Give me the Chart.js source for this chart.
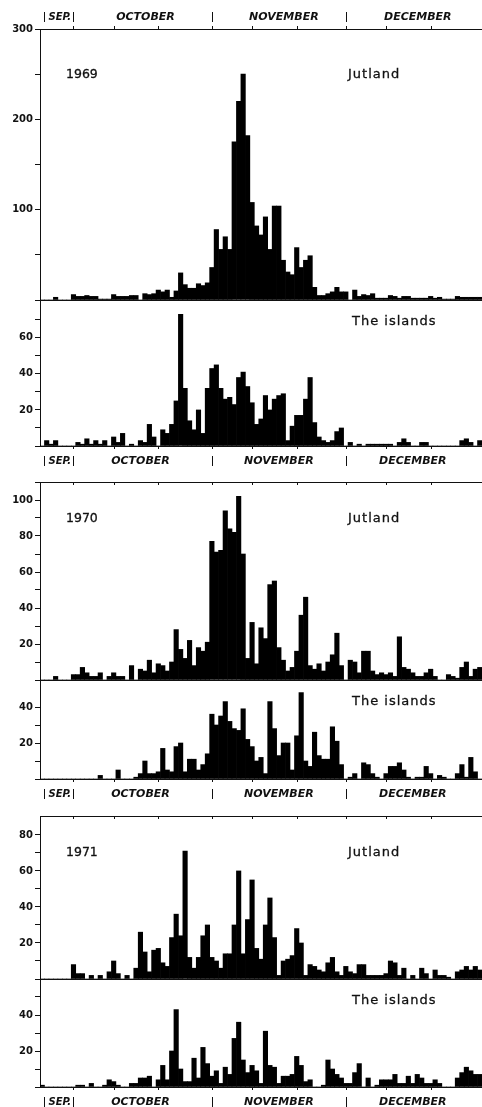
<!DOCTYPE html>
<html>
<head>
<meta charset="utf-8">
<script src="https://cdn.jsdelivr.net/npm/chart.js@4.4.1/dist/chart.umd.min.js"></script>
<style>
  body { margin: 0; background: #fff; }
  #page { position: relative; width: 482px; height: 1107px; overflow: hidden; background: #fff; }
  .panel { position: absolute; left: 0; }
  .tag { position: absolute; font: 13px "DejaVu Sans", sans-serif; color: #111; white-space: nowrap; line-height: 16px; -webkit-text-stroke: 0.3px #111; }
  .tag.year { font-size: 12.5px; }
  .tag.place { letter-spacing: 1px; }
</style>
</head>
<body>
<div id="page"></div>
<script>
// days run from 24 Sep to 31 Dec, one bar per day
const monthShort = ['Sep', 'Oct', 'Nov', 'Dec'];
const monthLengths = [30, 31, 30, 31];
const monthLabels = ['SEP.', 'OCTOBER', 'NOVEMBER', 'DECEMBER'];
const firstDay = 24;
const tickDays = [1, 10, 20];

const jutland1969 = [
  0, 0, 0, 3, 0, 0, 0, 6, 4, 4,
  5, 4, 4, 1, 1, 1, 6, 4, 4, 4,
  5, 5, 0, 7, 6, 7, 11, 9, 11, 3,
  10, 30, 17, 13, 13, 18, 16, 19, 36, 78,
  56, 70, 56, 175, 220, 250, 182, 108, 82, 72,
  92, 56, 104, 104, 44, 31, 28, 58, 36, 44,
  49, 14, 5, 5, 7, 9, 14, 9, 9, 0,
  11, 4, 6, 5, 7, 2, 2, 2, 5, 4,
  2, 4, 4, 2, 2, 2, 2, 4, 2, 3,
  1, 1, 1, 4, 3, 3, 3, 3, 3,
];
const islands1969 = [
  0, 3, 1, 3, 0, 0, 0, 0, 2, 1,
  4, 1, 3, 1, 3, 0, 5, 2, 7, 0,
  1, 0, 3, 2, 12, 5, 0, 9, 7, 12,
  25, 73, 32, 14, 9, 20, 7, 32, 43, 45,
  32, 26, 27, 23, 38, 41, 33, 24, 12, 15,
  28, 20, 26, 28, 29, 3, 11, 17, 17, 26,
  38, 13, 5, 3, 2, 3, 8, 10, 0, 2,
  0, 1, 0, 1, 1, 1, 1, 1, 1, 0,
  2, 4, 2, 0, 0, 2, 2, 0, 0, 0,
  0, 0, 0, 0, 3, 4, 2, 0, 3,
];
const jutland1970 = [
  0, 0, 0, 2, 0, 0, 0, 3, 3, 7,
  4, 2, 2, 4, 0, 2, 4, 2, 2, 0,
  8, 0, 6, 5, 11, 4, 9, 8, 5, 10,
  28, 17, 12, 22, 8, 18, 16, 21, 77, 71,
  72, 94, 84, 82, 102, 70, 12, 32, 9, 29,
  23, 53, 55, 18, 11, 5, 7, 16, 36, 46,
  8, 6, 9, 5, 10, 14, 26, 8, 0, 11,
  10, 4, 16, 16, 5, 3, 4, 3, 4, 2,
  24, 7, 6, 4, 2, 2, 4, 6, 2, 0,
  0, 3, 2, 1, 7, 10, 2, 6, 7,
];
const islands1970 = [
  0, 0, 0, 0, 0, 0, 0, 0, 0, 0,
  0, 0, 0, 2, 0, 0, 0, 5, 0, 0,
  0, 1, 3, 10, 3, 3, 4, 17, 5, 4,
  18, 20, 4, 11, 11, 5, 8, 14, 36, 30,
  35, 43, 32, 28, 27, 39, 22, 18, 10, 12,
  3, 43, 28, 13, 20, 20, 5, 24, 48, 10,
  7, 26, 13, 11, 11, 29, 21, 8, 0, 1,
  3, 0, 9, 8, 3, 1, 0, 3, 7, 7,
  9, 5, 1, 0, 1, 1, 7, 3, 0, 2,
  1, 0, 0, 3, 8, 1, 12, 4, 0,
];
const jutland1971 = [
  0, 0, 0, 0, 0, 0, 0, 8, 3, 3,
  0, 2, 0, 2, 0, 4, 10, 3, 0, 2,
  0, 6, 26, 15, 4, 16, 17, 9, 7, 23,
  36, 24, 71, 12, 6, 12, 24, 30, 12, 10,
  6, 14, 14, 30, 60, 14, 33, 55, 17, 11,
  30, 45, 23, 2, 10, 11, 13, 28, 20, 2,
  8, 7, 5, 4, 9, 12, 4, 2, 7, 4,
  3, 8, 8, 2, 2, 2, 2, 3, 10, 9,
  2, 6, 0, 2, 0, 6, 3, 0, 5, 2,
  2, 1, 0, 4, 5, 7, 5, 7, 5,
];
const islands1971 = [
  1, 0, 0, 0, 0, 0, 0, 0, 1, 1,
  0, 2, 0, 0, 1, 4, 3, 1, 0, 0,
  2, 2, 5, 5, 6, 0, 4, 12, 4, 20,
  43, 10, 3, 3, 16, 5, 22, 13, 6, 9,
  2, 11, 7, 27, 36, 15, 8, 12, 9, 2,
  31, 12, 11, 2, 6, 6, 7, 17, 12, 3,
  4, 0, 0, 1, 15, 10, 7, 5, 2, 2,
  8, 13, 0, 5, 0, 1, 4, 4, 4, 7,
  2, 2, 6, 2, 7, 5, 2, 2, 4, 2,
  0, 0, 0, 5, 8, 11, 9, 7, 7,
];

// day labels and where each month starts
const days = [];
const dayOfMonth = [];
monthLengths.forEach((len, m) => {
  for (let d = m === 0 ? firstDay : 1; d <= len; d++) {
    days.push(monthShort[m] + ' ' + d);
    dayOfMonth.push(d);
  }
});

const ink = '#111';

// panel layout on the page: chart area top/bottom in px
const panels = [
  { data: jutland1969, top: 29, bottom: 300, max: 300, step: 50, every: 100, lastLabel: 300, box: [0, 310], frame: true, months: 'top', year: '1969', place: 'Jutland' },
  { data: islands1969, top: 300, bottom: 446, max: 81, step: 10, every: 20, lastLabel: 60, box: [290, 470], frame: false, months: 'bottom', place: 'The islands' },
  { data: jutland1970, top: 482, bottom: 680, max: 110, step: 10, every: 20, lastLabel: 100, box: [472, 690], frame: true, months: null, year: '1970', place: 'Jutland' },
  { data: islands1970, top: 680, bottom: 779, max: 55, step: 10, every: 20, lastLabel: 40, box: [670, 804], frame: false, months: 'bottom', place: 'The islands' },
  { data: jutland1971, top: 816, bottom: 979, max: 90.5, step: 10, every: 20, lastLabel: 80, box: [806, 989], frame: true, months: null, year: '1971', place: 'Jutland' },
  { data: islands1971, top: 979, bottom: 1087, max: 60, step: 10, every: 20, lastLabel: 40, box: [969, 1107], frame: false, months: 'bottom', place: 'The islands' },
];

const hLine = (ctx, x1, x2, y) => {
  ctx.beginPath();
  ctx.moveTo(x1, Math.round(y) + 0.5);
  ctx.lineTo(x2, Math.round(y) + 0.5);
  ctx.stroke();
};
const vLine = (ctx, x, y1, y2) => {
  ctx.beginPath();
  ctx.moveTo(Math.round(x) + 0.5, y1);
  ctx.lineTo(Math.round(x) + 0.5, y2);
  ctx.stroke();
};

const framePlugin = {
  id: 'frame',
  afterDatasetsDraw(chart, args, opts) {
    const { ctx, chartArea: a } = chart;
    const x = chart.scales.x;
    ctx.save();
    ctx.strokeStyle = ink;
    ctx.fillStyle = ink;
    ctx.lineWidth = 1;

    // baseline with day ticks below it
    hLine(ctx, a.left, a.right, a.bottom);
    if (opts.months === 'bottom') {
      dayOfMonth.forEach((d, i) => {
        if (tickDays.includes(d)) vLine(ctx, x.getPixelForValue(i), a.bottom, a.bottom + 3);
      });
    }

    // top frame line with ticks
    if (opts.frame) {
      hLine(ctx, a.left, a.right, a.top);
      const dir = opts.months === 'top' ? -3 : 3;
      dayOfMonth.forEach((d, i) => {
        if (tickDays.includes(d)) vLine(ctx, x.getPixelForValue(i), a.top, a.top + dir);
      });
    }

    // month names row
    if (opts.months) {
      const y = opts.months === 'top' ? a.top - 12 : a.bottom + 15;
      const shift = opts.months === 'top' ? 5 : 0;
      ctx.textAlign = 'center';
      ctx.textBaseline = 'middle';
      const starts = [];
      dayOfMonth.forEach((d, i) => { if (d === 1) starts.push(i); });
      // separators at the first of each month
      const sepX = [x.getPixelForValue(0) + 2, ...starts.map((i) => x.getPixelForValue(i))];
      sepX.forEach((sx) => vLine(ctx, sx, y - 5, y + 5));
      ctx.font = 'italic bold 10px "DejaVu Sans", sans-serif';
      ctx.fillText(monthLabels[0], (sepX[0] + sepX[1]) / 2 + 1, y);
      ctx.font = 'italic bold 11px "DejaVu Sans", sans-serif';
      starts.forEach((s, m) => {
        const mid = s + 15;
        ctx.fillText(monthLabels[m + 1], x.getPixelForValue(mid) + shift, y);
      });
    }
    ctx.restore();
  },
};

const page = document.getElementById('page');

const addTag = (text, cls, left, centerY) => {
  const el = document.createElement('div');
  el.className = 'tag ' + cls;
  el.textContent = text;
  el.style.left = left + 'px';
  el.style.top = (centerY - 8) + 'px';
  page.appendChild(el);
};

const renderPanel = (p) => {
  const [boxTop, boxBottom] = p.box;
  const height = boxBottom - boxTop;
  const wrap = document.createElement('div');
  wrap.className = 'panel';
  wrap.style.top = boxTop + 'px';
  const canvas = document.createElement('canvas');
  canvas.width = 482;
  canvas.height = height;
  canvas.style.width = '482px';
  canvas.style.height = height + 'px';
  wrap.appendChild(canvas);
  page.appendChild(wrap);

  new Chart(canvas, {
    type: 'bar',
    data: {
      labels: days,
      datasets: [
        {
          data: p.data,
          backgroundColor: '#000',
          borderWidth: 0,
          barPercentage: 1,
          categoryPercentage: 1,
        },
      ],
    },
    options: {
      responsive: false,
      animation: false,
      devicePixelRatio: 1,
      layout: { padding: { top: p.top - boxTop, bottom: boxBottom - p.bottom, left: 0, right: 0 } },
      plugins: {
        legend: { display: false },
        tooltip: { enabled: false },
        frame: { frame: p.frame, months: p.months },
      },
      scales: {
        x: { type: 'category', display: false },
        y: {
          min: 0,
          max: p.max,
          border: { display: true, color: ink, width: 1 },
          grid: { drawOnChartArea: false, drawTicks: true, tickLength: 5, color: ink },
          ticks: {
            stepSize: p.step,
            autoSkip: false,
            padding: 2,
            color: ink,
            font: { family: '"DejaVu Sans", sans-serif', size: 10, weight: 'bold' },
            callback: (v) => (v > 0 && v <= p.lastLabel && v % p.every === 0 ? v : ''),
          },
          afterBuildTicks: (s) => {
            s.ticks = s.ticks.filter((t) => t.value % p.step === 0);
          },
          afterFit: (s) => {
            s.width = 40;
            s.paddingTop = 0;
            s.paddingBottom = 0;
          },
        },
      },
    },
    plugins: [framePlugin],
  });

  const labelY = p.top + (p.top < 100 ? 45 : 36);
  if (p.year) addTag(p.year, 'year', 66, labelY);
  addTag(p.place, 'place', p.year ? 348 : 352, p.year ? labelY : p.top + 21);
};

panels.forEach(renderPanel);
</script>
</body>
</html>
